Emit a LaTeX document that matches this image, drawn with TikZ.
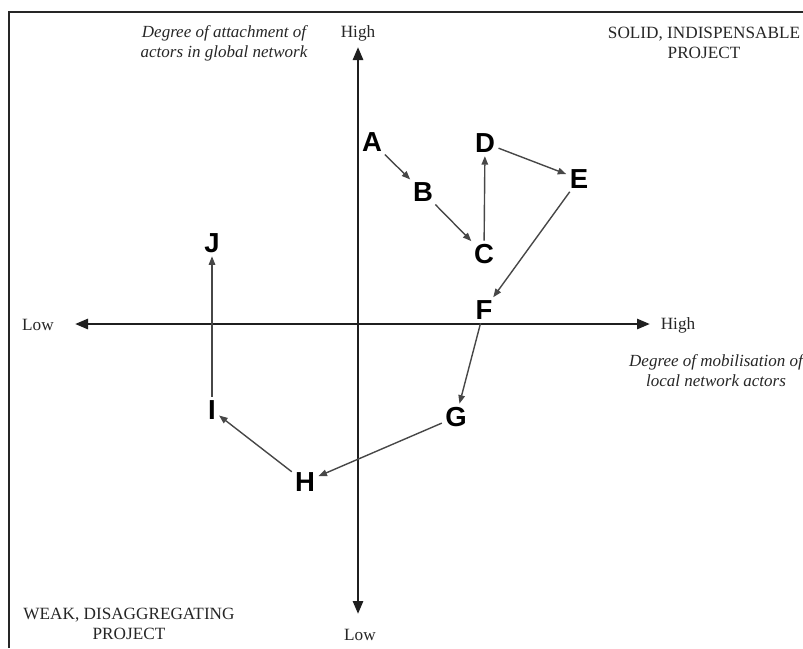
\documentclass[tikz,border=0pt]{standalone}
\usepackage{fontspec}
\setmainfont{Liberation Serif}
\newfontfamily\letfont{Liberation Sans}
\usetikzlibrary{arrows.meta}
\begin{document}
\begin{tikzpicture}[x=1pt,y=-1pt,
  lbl/.style={font=\fontsize{17.2}{20}\selectfont, align=center, inner sep=0pt, text=black!85},
  ital/.style={font=\fontsize{17}{20}\selectfont\itshape, align=center, inner sep=0pt, text=black!85},
  pnt/.style={font=\letfont\bfseries\fontsize{27.5}{27.5}\selectfont, inner sep=1.5pt},
  axisline/.style={line width=2.7pt, draw=black!88, {Triangle[length=13pt,width=10pt]}-{Triangle[length=13pt,width=10pt]}},
  link/.style={line width=1.4pt, draw=black!72, -{Triangle[length=8.5pt,width=6.5pt]}, shorten >=2pt, shorten <=2pt}]
\useasboundingbox (0,0) rectangle (803,648);
\coordinate (fa) at (9,648);
\coordinate (fb) at (9,12);
\coordinate (fc) at (803,12);
\draw[line width=2.5pt, black!85] (fa) -- (fb) -- (fc);
% axes
\coordinate (ytop) at (358,47);
\coordinate (ybot) at (358,614);
\coordinate (xleft) at (75,324);
\coordinate (xright) at (650,324);
\draw[axisline] (ybot) -- (ytop);
\draw[axisline] (xleft) -- (xright);
% axis labels
\node[lbl] (yhigh) at (358,33) {High};
\node[lbl] (ylow) at (360,635) {Low};
\node[lbl] (xlow) at (38,325) {Low};
\node[lbl] (xhigh) at (678,325) {High};
\node[ital] (ylab) at (224,43) {Degree of attachment of\\actors in global network};
\node[ital] (xlab) at (716,371) {Degree of mobilisation of\\local network actors};
\node[lbl] (solid) at (704,43) {SOLID, INDISPENSABLE\\PROJECT};
\node[lbl] (weak) at (129,624) {WEAK, DISAGGREGATING\\PROJECT};
% points
\node[pnt] (A) at (372,142) {A};
\node[pnt] (B) at (423,192) {B};
\node[pnt] (C) at (484,254) {C};
\node[pnt] (D) at (485,143) {D};
\node[pnt] (E) at (579,179) {E};
\node[pnt] (F) at (484,310) {F};
\node[pnt] (G) at (456,417) {G};
\node[pnt] (H) at (305,482) {H};
\node[pnt] (I) at (212,410) {I};
\node[pnt] (J) at (212,243) {J};
\draw[link] (A) -- (B);
\draw[link] (B) -- (C);
\draw[link] (C) -- (D);
\draw[link] (D) -- (E);
\draw[link] (E) -- (F);
\draw[link] (F) -- (G);
\draw[link] (G) -- (H);
\draw[link] (H) -- (I);
\draw[link] (I) -- (J);
\end{tikzpicture}
\end{document}
